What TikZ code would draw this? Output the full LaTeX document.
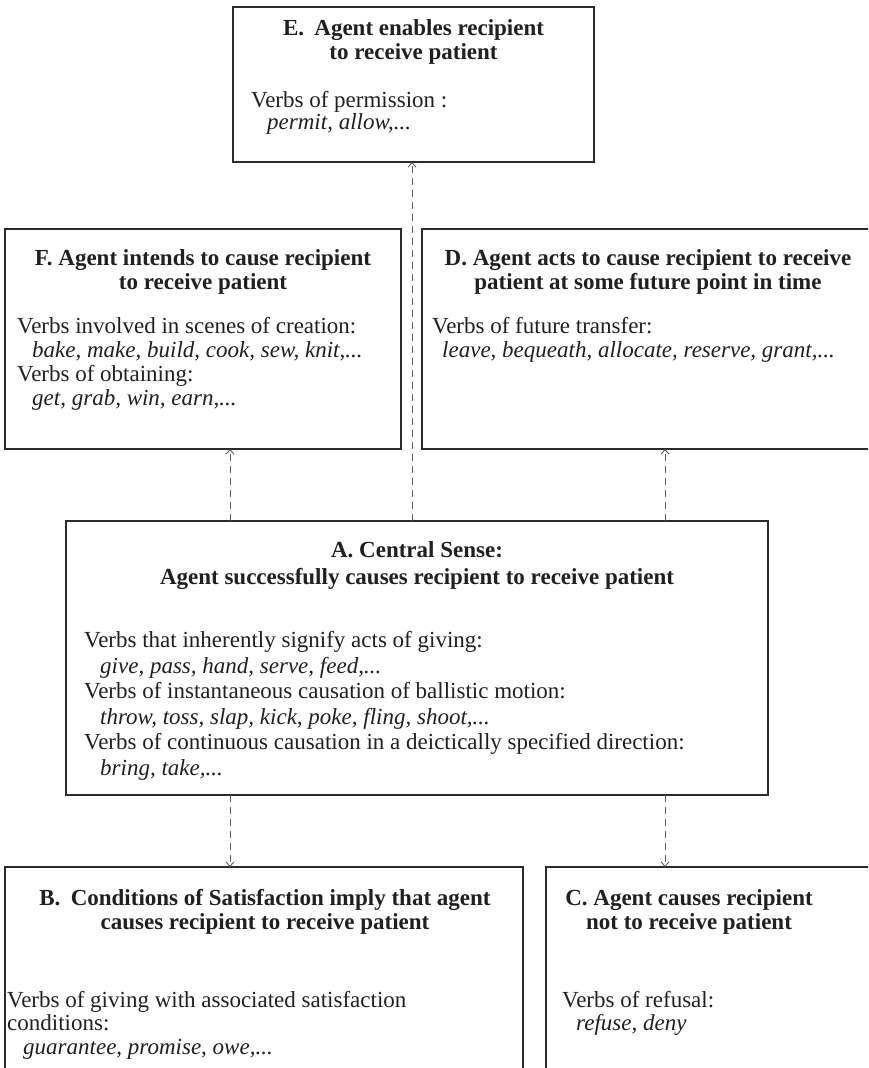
\documentclass[tikz,border=0pt]{standalone}
\usepackage{fontspec}
\setmainfont{Liberation Serif}
\usetikzlibrary{arrows.meta}
\definecolor{ink}{HTML}{231F20}
\definecolor{framec}{HTML}{2B2B2B}
\definecolor{dashc}{HTML}{5E5E5E}
\newcommand{\bodyfont}{\fontsize{23}{25}\selectfont\color{ink}}
\tikzset{
  box/.style={draw=framec, line width=1.2pt, inner sep=0pt, outer sep=0pt,
              anchor=north west, rectangle},
  mainbox/.style={box, line width=2.6pt},
  ln/.style={anchor=base west, inner sep=0pt, font=\bodyfont},
  ex/.style={ln, font=\bodyfont\itshape},
  ttl/.style={anchor=base, inner sep=0pt, font=\bodyfont\bfseries},
  conn/.style={draw=dashc, line width=0.9pt, dash pattern=on 7pt off 5pt,
               -{Straight Barb[length=4.5pt,width=8pt,line width=0.9pt]}},
}
\begin{document}
\begin{tikzpicture}[x=1pt,y=-1pt]
  \clip (0,0) rectangle (868,1068);
  \fill[white] (0,0) rectangle (868,1068);

  % boxes
  \node[box, minimum width=361pt, minimum height=155pt] (E) at (233,7) {};
  \node[box, minimum width=396pt, minimum height=220pt] (F) at (5,229) {};
  \node[box, minimum width=470pt, minimum height=220pt] (D) at (422,229) {};
  \node[mainbox, minimum width=702pt, minimum height=274pt] (A) at (66,521) {};
  \node[box, minimum width=518pt, minimum height=230pt] (B) at (5,867) {};
  \node[box, minimum width=340pt, minimum height=230pt] (C) at (546,867) {};

  % E
  \node[ttl] (Et1) at (413.5,35) {E.\hspace{0.45em}Agent enables recipient};
  \node[ttl] (Et2) at (413.5,59) {to receive patient};
  \node[ln] (Eb1) at (251,107) {Verbs of permission :};
  \node[ex] (Eb2) at (267,129) {permit, allow,...};

  % F
  \node[ttl] (Ft1) at (203,265) {F. Agent intends to cause recipient};
  \node[ttl] (Ft2) at (203,289) {to receive patient};
  \node[ln] (Fb1) at (17,333) {Verbs involved in scenes of creation:};
  \node[ex] (Fb2) at (32,357) {bake, make, build, cook, sew, knit,...};
  \node[ln] (Fb3) at (17,381) {Verbs of obtaining:};
  \node[ex] (Fb4) at (32,405) {get, grab, win, earn,...};

  % D
  \node[ttl] (Dt1) at (648,265) {D. Agent acts to cause recipient to receive};
  \node[ttl] (Dt2) at (648,289) {patient at some future point in time};
  \node[ln] (Db1) at (432,333) {Verbs of future transfer:};
  \node[ex] (Db2) at (442,357) {leave, bequeath, allocate, reserve, grant,...};

  % A
  \node[ttl] (At1) at (417,557) {A. Central Sense:};
  \node[ttl] (At2) at (417,584) {Agent successfully causes recipient to receive patient};
  \node[ln] (Ab1) at (84,647) {Verbs that inherently signify acts of giving:};
  \node[ex] (Ab2) at (100,673) {give, pass, hand, serve, feed,...};
  \node[ln] (Ab3) at (84,698) {Verbs of instantaneous causation of ballistic motion:};
  \node[ex] (Ab4) at (100,724) {throw, toss, slap, kick, poke, fling, shoot,...};
  \node[ln] (Ab5) at (84,749) {Verbs of continuous causation in a deictically specified direction:};
  \node[ex] (Ab6) at (100,775) {bring, take,...};

  % B
  \node[ttl] (Bt1) at (265,905) {B.\hspace{0.45em}Conditions of Satisfaction imply that agent};
  \node[ttl] (Bt2) at (265,929) {causes recipient to receive patient};
  \node[ln] (Bb1) at (7,1007) {Verbs of giving with associated satisfaction};
  \node[ln] (Bb2) at (7,1030) {conditions:};
  \node[ex] (Bb3) at (23,1054) {guarantee, promise, owe,...};

  % C
  \node[ttl] (Ct1) at (689,905) {C. Agent causes recipient};
  \node[ttl] (Ct2) at (689,929) {not to receive patient};
  \node[ln] (Cb1) at (562,1007) {Verbs of refusal:};
  \node[ex] (Cb2) at (576,1030) {refuse, deny};

  % connector columns
  \coordinate (colF) at (230,0);
  \coordinate (colE) at (412,0);
  \coordinate (colD) at (665,0);
  \coordinate (colB) at (230,0);
  \coordinate (colC) at (665,0);

  % connectors
  \draw[conn] (A.north -| colF) -- (F.south -| colF);
  \draw[conn] (A.north -| colE) -- (E.south -| colE);
  \draw[conn] (A.north -| colD) -- (D.south -| colD);
  \draw[conn] (A.south -| colB) -- (B.north -| colB);
  \draw[conn] (A.south -| colC) -- (C.north -| colC);
\end{tikzpicture}
\end{document}
